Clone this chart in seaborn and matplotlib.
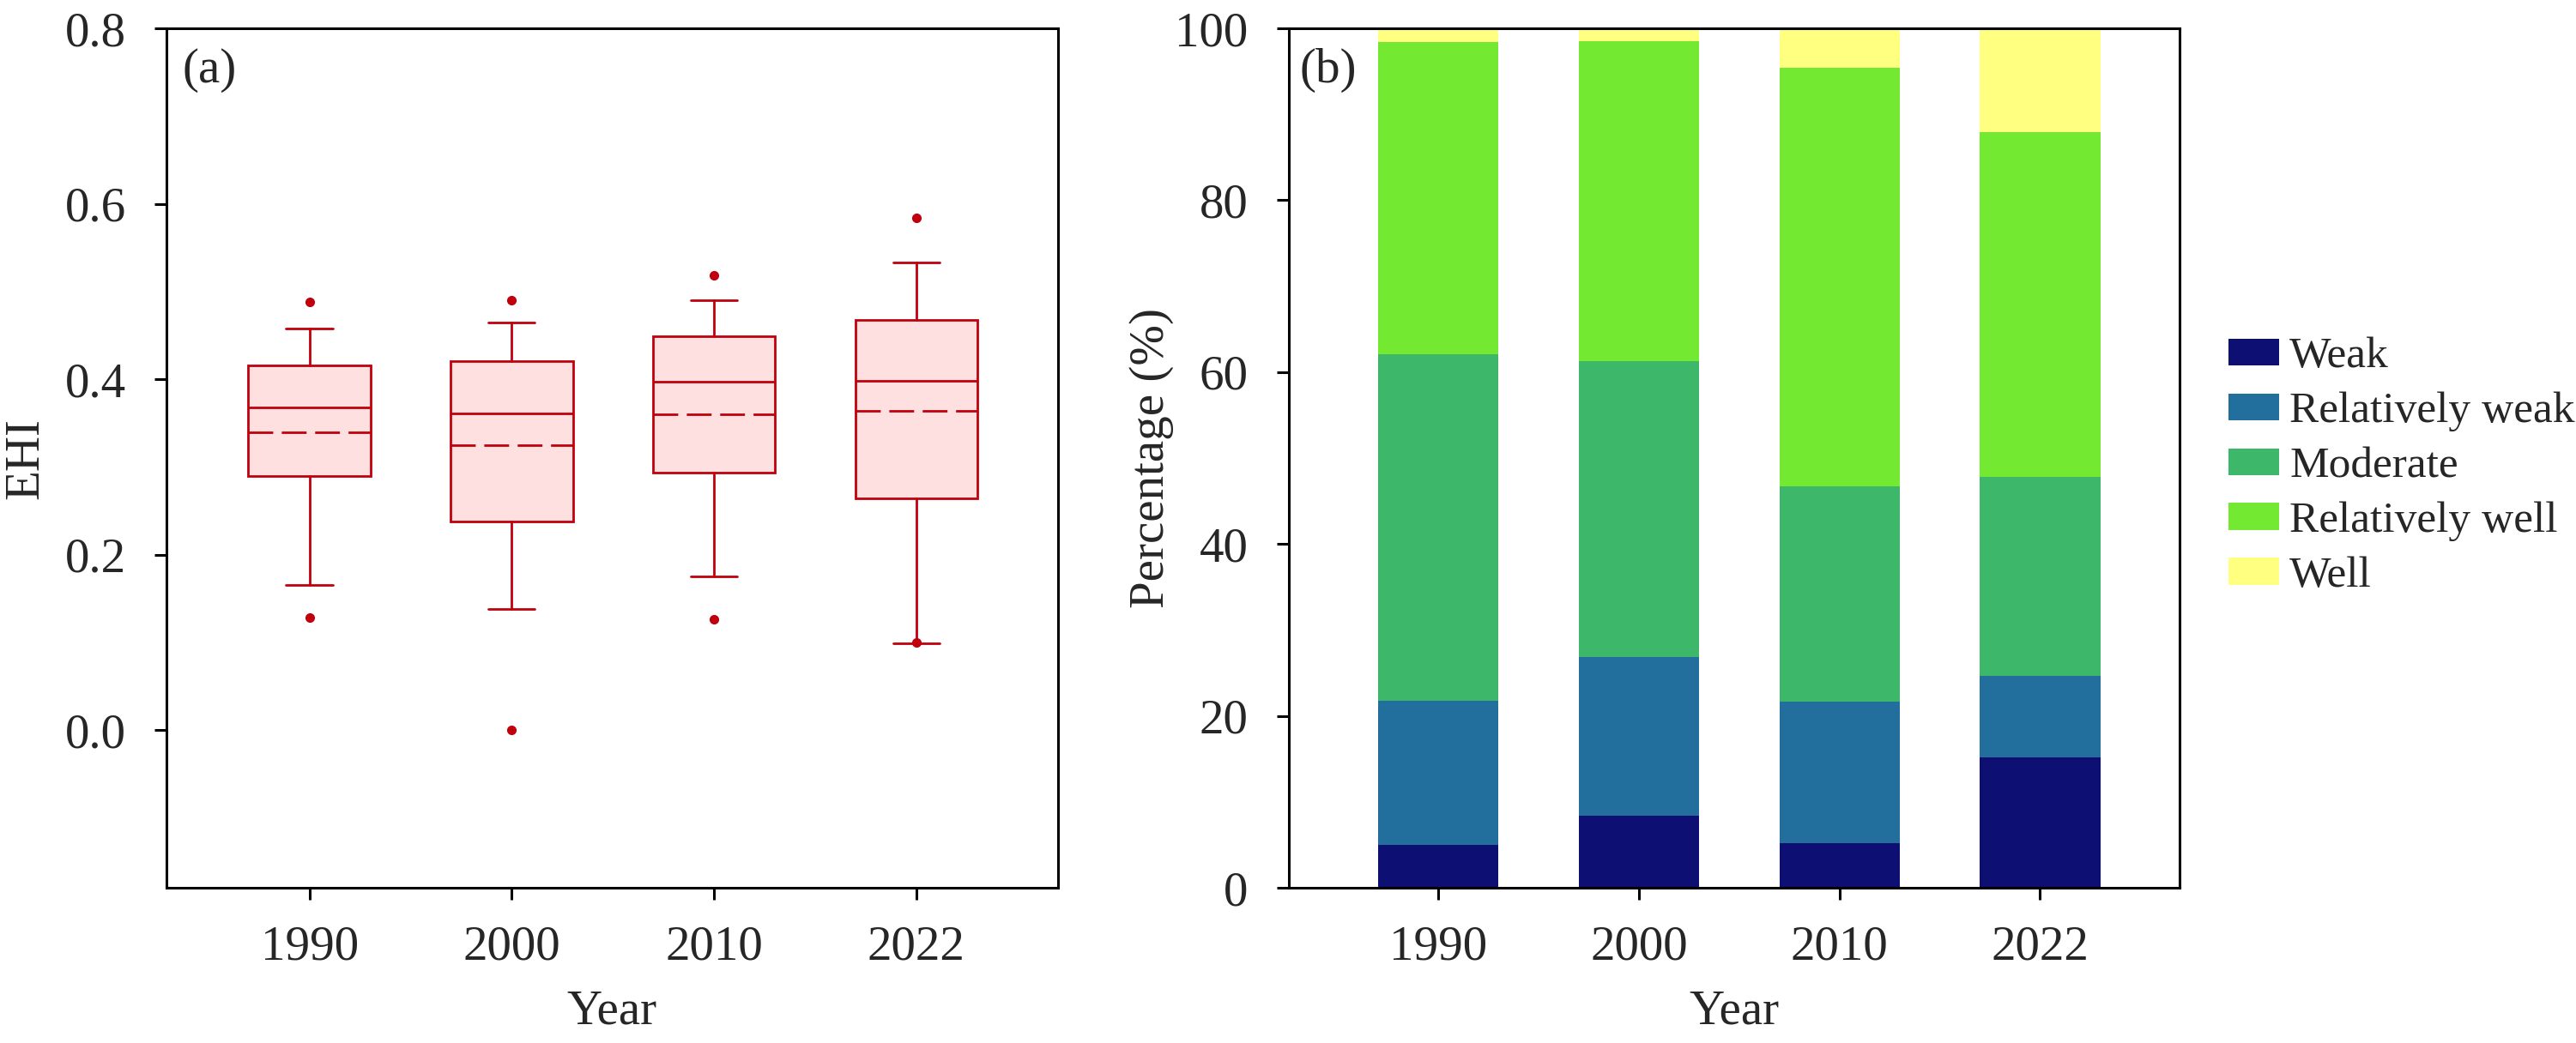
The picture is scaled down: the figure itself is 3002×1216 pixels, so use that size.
import numpy as np
import pandas as pd
import matplotlib
matplotlib.use("Agg")
import matplotlib.pyplot as plt
from matplotlib.patches import Patch
import seaborn as sns

years = ["1990", "2000", "2010", "2022"]

# panel (a): box statistics
ehi_q1 = [0.290, 0.238, 0.293, 0.264]
ehi_med = [0.368, 0.361, 0.397, 0.398]
ehi_q3 = [0.416, 0.421, 0.449, 0.468]
ehi_mean = [0.339, 0.325, 0.360, 0.364]
ehi_whislo = [0.165, 0.138, 0.175, 0.099]
ehi_whishi = [0.458, 0.465, 0.490, 0.533]
ehi_out_lo = [0.128, 0.000, 0.126, 0.100]
ehi_out_hi = [0.488, 0.490, 0.518, 0.584]

# panel (b): percentage of each level
levels = ["Weak", "Relatively weak", "Moderate", "Relatively well", "Well"]
weak = [5.0, 8.4, 5.2, 15.2]
rel_weak = [16.8, 18.5, 16.5, 9.5]
moderate = [40.3, 34.4, 25.0, 23.1]
rel_well = [36.3, 37.2, 48.7, 40.1]
well = [1.6, 1.5, 4.6, 12.1]
level_colors = ["#0d0f73", "#226e9c", "#3db76a", "#73ea31", "#ffff80"]

red = "#c0000c"
pink = "#ffe0e0"

sns.set_theme(style="ticks")
plt.rcParams["font.family"] = ["Liberation Serif", "DejaVu Serif"]

fs = 41
fig = plt.figure(figsize=(30.02, 12.16), dpi=100)
ax1 = fig.add_axes([0.0646, 0.1488, 0.3461, 0.824])
ax2 = fig.add_axes([0.5003, 0.1488, 0.3458, 0.824])

# ---- (a) box plot
stats = []
for i in range(len(years)):
    stats.append({
        "q1": ehi_q1[i], "med": ehi_med[i], "q3": ehi_q3[i], "mean": ehi_mean[i],
        "whislo": ehi_whislo[i], "whishi": ehi_whishi[i],
        "fliers": [ehi_out_lo[i], ehi_out_hi[i]], "label": years[i],
    })

ax1.bxp(stats, positions=range(len(years)), widths=0.605, capwidths=0.23,
        patch_artist=True, showmeans=True, meanline=True,
        boxprops=dict(facecolor=pink, edgecolor=red, linewidth=2),
        whiskerprops=dict(color=red, linewidth=2),
        capprops=dict(color=red, linewidth=2),
        medianprops=dict(color=red, linewidth=2),
        meanprops=dict(color=red, linewidth=2, linestyle=(0, (10.4, 3.6))),
        flierprops=dict(marker="o", markerfacecolor=red, markeredgecolor=red,
                        markersize=7))
ax1.set_xlim(-0.707, 3.70)
ax1.set_ylim(-0.18, 0.8)
ax1.set_yticks([0.0, 0.2, 0.4, 0.6, 0.8])
ax1.set_yticklabels(["0.0", "0.2", "0.4", "0.6", "0.8"])
ax1.set_xticks(range(len(years)))
ax1.set_xticklabels(years)
ax1.set_ylabel("EHI", fontsize=fs, labelpad=14)
ax1.text(0.018, 0.977, "(a)", transform=ax1.transAxes, ha="left", va="top", fontsize=fs)

# ---- (b) stacked bars, drawn as cumulative totals from the top down
df = pd.DataFrame({"Year": years, "Weak": weak, "Relatively weak": rel_weak,
                   "Moderate": moderate, "Relatively well": rel_well, "Well": well})
cum = df[levels].cumsum(axis=1)
for lev, col in reversed(list(zip(levels, level_colors))):
    sns.barplot(x=df["Year"], y=cum[lev], color=col, width=0.6, saturation=1,
                errorbar=None, linewidth=0, ax=ax2)
ax2.set_xlim(-0.745, 3.695)
ax2.set_ylim(0, 100)
ax2.set_yticks([0, 20, 40, 60, 80, 100])
ax2.set_ylabel("Percentage (%)", fontsize=fs, labelpad=1)
ax2.text(0.012, 0.977, "(b)", transform=ax2.transAxes, ha="left", va="top", fontsize=fs)

handles = [Patch(facecolor=c, edgecolor="none", label=l) for l, c in zip(levels, level_colors)]
ax2.legend(handles=handles, loc="center left", bbox_to_anchor=(1.055, 0.49),
           frameon=False, fontsize=37, borderpad=0, borderaxespad=0,
           handlelength=1.15, handleheight=0.56, handletextpad=0.23, labelspacing=0.34)

for ax in (ax1, ax2):
    ax.set_xlabel("Year", fontsize=fs)
    ax.xaxis.set_label_coords(0.5, -0.118)
    ax.grid(False)
    for s in ax.spines.values():
        s.set_visible(True)
        s.set_linewidth(2.2)
        s.set_color("black")
    ax.tick_params(axis="both", direction="out", length=10, width=2.2,
                   labelsize=fs, color="black", top=False, right=False)
    ax.tick_params(axis="y", pad=24)
    ax.tick_params(axis="x", pad=21)
    ax.set_facecolor("white")

fig.savefig("out.png", dpi=100)
